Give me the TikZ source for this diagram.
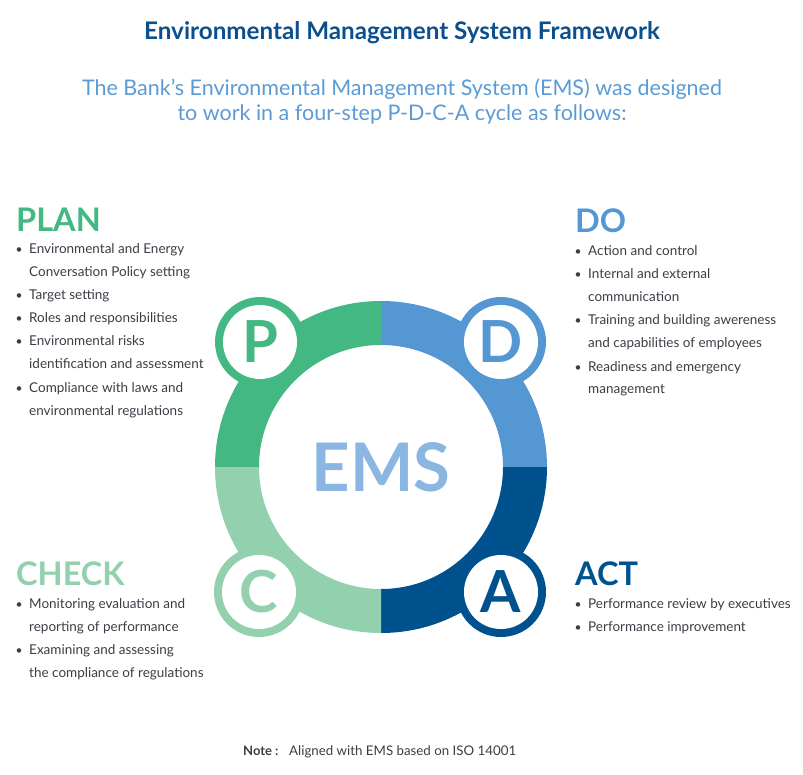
\documentclass[tikz,border=0pt]{standalone}
\usepackage{fontspec}
\setmainfont{Lato}
\usetikzlibrary{calc}
\definecolor{titleblue}{HTML}{0B4F8C}
\definecolor{subblue}{HTML}{5B9BD5}
\definecolor{pgreen}{HTML}{43B883}
\definecolor{dblue}{HTML}{5597D2}
\definecolor{cgreen}{HTML}{93D0AD}
\definecolor{adark}{HTML}{00528F}
\definecolor{emsblue}{HTML}{8AB6E1}
\definecolor{bodygray}{HTML}{3C3C46}
\tikzset{
  heading/.style={anchor=base west, inner sep=0pt, font=\fontsize{32.5}{33}\selectfont\bfseries},
  bodytext/.style={anchor=base west, inner sep=0pt, text=bodygray, font=\fontsize{13.5}{16}\selectfont},
  bulletdot/.style={anchor=base, inner sep=0pt, text=bodygray, font=\fontsize{12}{16}\selectfont},
  letter/.style={font=\fontsize{58}{58}\selectfont\bfseries, inner sep=0pt},
}
\begin{document}
\begin{tikzpicture}[x=1pt,y=1pt]
\useasboundingbox (0,0) rectangle (803,-775);
% titles
\node[anchor=base, inner sep=0pt, text=titleblue, font=\fontsize{24.2}{26}\selectfont\bfseries] (title) at (402,-40) {Environmental Management System Framework};
\node[anchor=base, inner sep=0pt, text=subblue, font=\fontsize{21.5}{24}\selectfont] (sub1) at (402,-96) {The Bank’s Environmental Management System (EMS) was designed};
\node[anchor=base, inner sep=0pt, text=subblue, font=\fontsize{21.5}{24}\selectfont] (sub2) at (402,-121) {to work in a four-step P-D-C-A cycle as follows:};
% ring
\coordinate (c) at (381,-467);
\def\Ro{166}\def\Ri{122}
\foreach \a/\col in {90/pgreen,0/dblue,270/adark,180/cgreen}{
  \fill[\col] ($(c)+(\a:\Ro)$) arc[start angle=\a, end angle=\a+90, radius=\Ro]
     -- ($(c)+(\a+90:\Ri)$) arc[start angle=\a+90, end angle=\a, radius=\Ri] -- cycle;
}
% small circles
\foreach \n/\x/\y/\col/\l in {p/260/342/pgreen/P, d/501/342/dblue/D, cc/259/592/cgreen/C, a/501/592/adark/A}{
  \fill[\col] (\x,-\y) circle[radius=45];
  \fill[white] (\x,-\y) circle[radius=37];
  \node[letter, text=\col] (l\n) at (\x,-\y) {\l};
}
\node[font=\fontsize{67}{67}\selectfont\bfseries, text=emsblue, inner sep=0pt] (ems) at (c) {EMS};
% headings
\node[heading, text=pgreen] (plan) at (16,-232) {PLAN};
\node[heading, text=dblue] (do) at (575,-233) {DO};
\node[heading, text=cgreen] (check) at (16,-585) {CHECK};
\node[heading, text=adark] (act) at (575,-585) {ACT};
% PLAN items
\foreach \i/\y/\b/\t in {1/254/1/Environmental and Energy, 2/277/0/Conversation Policy setting, 3/300/1/Target setting, 4/323/1/Roles and responsibilities, 5/346/1/Environmental risks, 6/369/0/identification and assessment, 7/392/1/Compliance with laws and, 8/415/0/environmental regulations}{
  \node[bodytext] (pl\i) at (29,-\y) {\t};
  \ifnum\b=1 \node[bulletdot] (pb\i) at (19,-\y) {•}; \fi
}
% DO items
\foreach \i/\y/\b/\t in {1/256/1/Action and control, 2/279/1/Internal and external, 3/302/0/communication, 4/325/1/Training and building awereness, 5/348/0/and capabilities of employees, 6/371/1/Readiness and emergency, 7/394/0/management}{
  \node[bodytext] (dl\i) at (588,-\y) {\t};
  \ifnum\b=1 \node[bulletdot] (db\i) at (578,-\y) {•}; \fi
}
% CHECK items
\foreach \i/\y/\b/\t in {1/608/1/Monitoring evaluation and, 2/631/0/reporting of performance, 3/654/1/Examining and assessing, 4/677/0/the compliance of regulations}{
  \node[bodytext] (cl\i) at (29,-\y) {\t};
  \ifnum\b=1 \node[bulletdot] (cb\i) at (19,-\y) {•}; \fi
}
% ACT items
\foreach \i/\y/\b/\t in {1/608/1/Performance review by executives, 2/631/1/Performance improvement}{
  \node[bodytext] (al\i) at (588,-\y) {\t};
  \ifnum\b=1 \node[bulletdot] (ab\i) at (578,-\y) {•}; \fi
}
% note
\node[anchor=base west, inner sep=0pt, text=bodygray, font=\fontsize{13}{14}\selectfont\bfseries] (notel) at (243,-755) {Note :};
\node[anchor=base west, inner sep=0pt, text=bodygray, font=\fontsize{13.3}{14}\selectfont] (note) at (289,-755) {Aligned with EMS based on ISO 14001};
\end{tikzpicture}
\end{document}
